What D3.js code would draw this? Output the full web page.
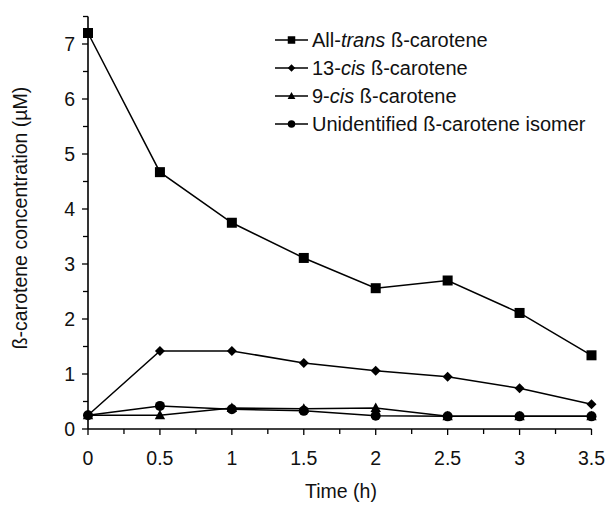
<!DOCTYPE html>
<html><head><meta charset="utf-8">
<script src="https://cdn.jsdelivr.net/npm/d3@7"></script>
<style>body{margin:0;background:#fff}svg text{font-family:"Liberation Sans",Arial,sans-serif;fill:#111}</style>
</head><body><svg id="c" width="609" height="506"></svg>
<script>
const times = [0, 0.5, 1, 1.5, 2, 2.5, 3, 3.5];
const allTrans = [7.2, 4.67, 3.75, 3.11, 2.56, 2.7, 2.11, 1.34];
const cis13 = [0.25, 1.42, 1.42, 1.2, 1.06, 0.95, 0.74, 0.45];
const cis9 = [0.25, 0.25, 0.38, 0.37, 0.38, 0.23, 0.23, 0.23];
const unidentified = [0.25, 0.42, 0.36, 0.33, 0.24, 0.23, 0.23, 0.23];
const xTicks = [0, 0.5, 1, 1.5, 2, 2.5, 3, 3.5];
const xTickLabels = ["0", "0.5", "1", "1.5", "2", "2.5", "3", "3.5"];
const yTicks = [0, 1, 2, 3, 4, 5, 6, 7];
const seriesNames = [
  [["All-", false], ["trans", true], [" ß-carotene", false]],
  [["13-", false], ["cis", true], [" ß-carotene", false]],
  [["9-", false], ["cis", true], [" ß-carotene", false]],
  [["Unidentified ß-carotene isomer", false]]
];
const seriesValues = [allTrans, cis13, cis9, unidentified];
const seriesMarkers = ["square", "diamond", "triangle", "circle"];

const svg = d3.select("#c");
const x = d3.scaleLinear().domain([0, 3.5]).range([88, 591.5]);
const y = d3.scaleLinear().domain([0, 7.5]).range([429, 16.5]);
const FS = 19.5;

function marker(g, type, cx, cy, s) {
  s = s || 1;
  const h = 5 * s;
  if (type === "square") g.append("rect").attr("x", cx - h).attr("y", cy - h).attr("width", 2 * h).attr("height", 2 * h).attr("fill", "#000");
  else if (type === "diamond") g.append("path").attr("d", `M${cx},${cy-h}L${cx+h},${cy}L${cx},${cy+h}L${cx-h},${cy}Z`).attr("fill", "#000");
  else if (type === "triangle") g.append("path").attr("d", `M${cx},${cy-1.1*h}L${cx+1.04*h},${cy+0.8*h}L${cx-1.04*h},${cy+0.8*h}Z`).attr("fill", "#000");
  else g.append("circle").attr("cx", cx).attr("cy", cy).attr("r", h).attr("fill", "#000");
}

// axes
const axG = svg.append("g");
axG.append("line").attr("x1", x(0)).attr("x2", x(0)).attr("y1", y(7.5)).attr("y2", y(0)).attr("stroke", "#000").attr("stroke-width", 1.6);
axG.append("line").attr("x1", x(0)).attr("x2", x(3.5)).attr("y1", y(0)).attr("y2", y(0)).attr("stroke", "#000").attr("stroke-width", 1.6);
d3.range(0, 7.51, 0.5).forEach(v => {
  const major = Math.abs(v - Math.round(v)) < 1e-6;
  axG.append("line").attr("x1", x(0) - (major ? 6 : 5)).attr("x2", x(0)).attr("y1", y(v)).attr("y2", y(v)).attr("stroke", "#000").attr("stroke-width", 1.3);
});
d3.range(0, 3.51, 0.25).forEach(v => {
  const major = Math.abs(v * 2 - Math.round(v * 2)) < 1e-6;
  axG.append("line").attr("x1", x(v)).attr("x2", x(v)).attr("y1", y(0)).attr("y2", y(0) + (major ? 6 : 5)).attr("stroke", "#000").attr("stroke-width", 1.3);
});
yTicks.forEach(v => {
  axG.append("text").attr("x", 75).attr("y", y(v) + 7).attr("text-anchor", "end").attr("font-size", FS).text(v);
});
xTicks.forEach((v, i) => {
  axG.append("text").attr("x", x(v)).attr("y", 465).attr("text-anchor", "middle").attr("font-size", FS).text(xTickLabels[i]);
});
svg.append("text").attr("x", 341).attr("y", 498).attr("text-anchor", "middle").attr("font-size", FS).text("Time (h)");
svg.append("text").attr("transform", "translate(27,218) rotate(-90)").attr("text-anchor", "middle").attr("font-size", FS).text("ß-carotene concentration (µM)");

// series
const line = d3.line().x((d, i) => x(times[i])).y(d => y(d));
seriesValues.forEach((vals, k) => {
  const g = svg.append("g");
  g.append("path").attr("d", line(vals)).attr("fill", "none").attr("stroke", "#000").attr("stroke-width", 1.5);
  vals.forEach((v, i) => marker(g, seriesMarkers[k], x(times[i]), y(v)));
});

// legend
const legY = [40, 68, 96, 124];
seriesNames.forEach((parts, k) => {
  const g = svg.append("g");
  g.append("line").attr("x1", 275).attr("x2", 308).attr("y1", legY[k]).attr("y2", legY[k]).attr("stroke", "#000").attr("stroke-width", 1.5);
  marker(g, seriesMarkers[k], 291.5, legY[k], 0.75);
  const t = g.append("text").attr("x", 312).attr("y", legY[k] + 7).attr("font-size", 20);
  parts.forEach(p => t.append("tspan").attr("font-style", p[1] ? "italic" : "normal").text(p[0]));
});
</script></body></html>
